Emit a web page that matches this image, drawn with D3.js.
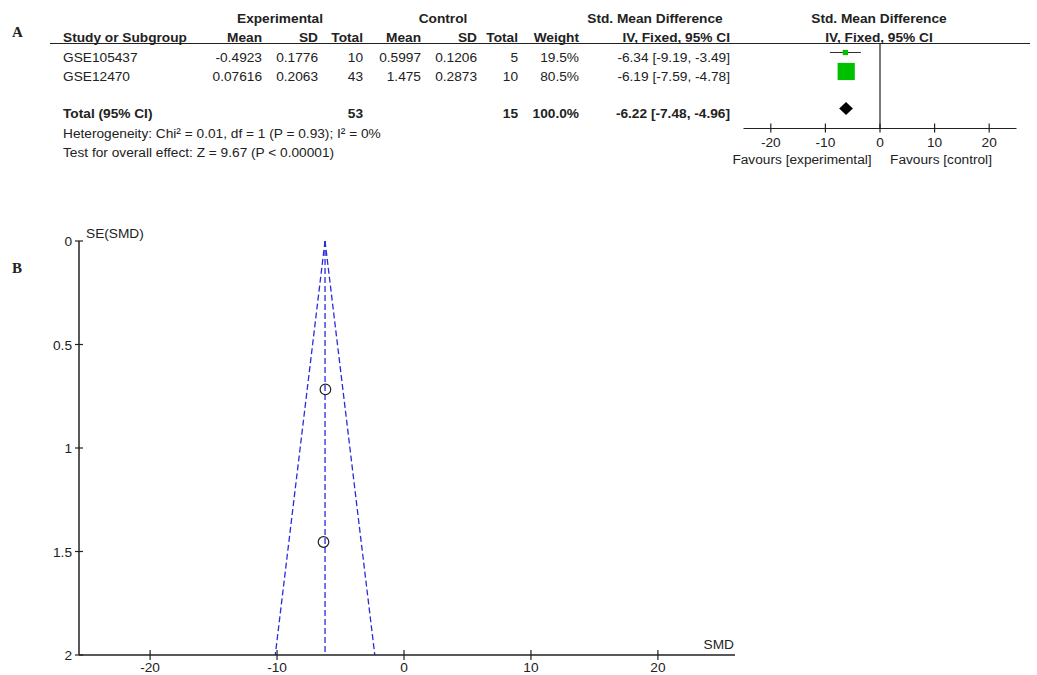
<!DOCTYPE html>
<html>
<head>
<meta charset="utf-8">
<script src="https://cdn.jsdelivr.net/npm/d3@7"></script>
<style>
  body { margin: 0; background: #fff; }
  svg text { font-family: "Liberation Sans", Arial, sans-serif; fill: #222; }
</style>
</head>
<body>
<div id="chart"></div>
<script>
// study rows
const studies = ["GSE105437", "GSE12470"];
const expMean = ["-0.4923", "0.07616"];
const expSD = ["0.1776", "0.2063"];
const expN = [10, 43];
const ctlMean = ["0.5997", "1.475"];
const ctlSD = ["0.1206", "0.2873"];
const ctlN = [5, 10];
const weights = [19.5, 80.5];
const smd = [-6.34, -6.19];
const ciLow = [-9.19, -7.59];
const ciHigh = [-3.49, -4.78];

// pooled result
const totalExpN = 53, totalCtlN = 15;
const pooled = -6.22, pooledLow = -7.48, pooledHigh = -4.96;
const heterogeneity = "Heterogeneity: Chi\u00b2 = 0.01, df = 1 (P = 0.93); I\u00b2 = 0%";
const overallEffect = "Test for overall effect: Z = 9.67 (P < 0.00001)";

const forestTicks = [-20, -10, 0, 10, 20];
const funnelXTicks = [-20, -10, 0, 10, 20];
const funnelYTicks = [0, 0.5, 1, 1.5, 2];

const width = 1037, height = 675;
const svg = d3.select("#chart").append("svg")
    .attr("width", width).attr("height", height);

const fontSize = "13.7px";

// ---------- Panel A: forest plot ----------
svg.append("text").attr("x", 12).attr("y", 37)
    .style("font-family", "'Liberation Serif', serif").style("font-weight", "bold")
    .style("font-size", "15px").text("A");

const A = svg.append("g").style("font-size", fontSize);

// column right edges (table is right aligned except the study name)
const cols = {study: 63, eMean: 262, eSD: 318, eN: 363, cMean: 421, cSD: 477, cN: 518, w: 579, ci: 730};

function txt(g, x, y, s, anchor, bold) {
    return g.append("text").attr("x", x).attr("y", y)
        .attr("text-anchor", anchor || "end")
        .style("font-weight", bold ? "bold" : "normal")
        .text(s);
}
const f2 = v => v.toFixed(2);

// group headers
txt(A, 280, 23, "Experimental", "middle", true);
txt(A, 443, 23, "Control", "middle", true);
txt(A, 655, 23, "Std. Mean Difference", "middle", true);
txt(A, 879, 23, "Std. Mean Difference", "middle", true);

const headY = 41.5;
txt(A, cols.study, headY, "Study or Subgroup", "start", true);
txt(A, cols.eMean, headY, "Mean", "end", true);
txt(A, cols.eSD, headY, "SD", "end", true);
txt(A, cols.eN, headY, "Total", "end", true);
txt(A, cols.cMean, headY, "Mean", "end", true);
txt(A, cols.cSD, headY, "SD", "end", true);
txt(A, cols.cN, headY, "Total", "end", true);
txt(A, cols.w, headY, "Weight", "end", true);
txt(A, cols.ci, headY, "IV, Fixed, 95% CI", "end", true);
txt(A, 879, headY, "IV, Fixed, 95% CI", "middle", true);

A.append("line").attr("x1", 50).attr("x2", 1030).attr("y1", 43.5).attr("y2", 43.5)
    .attr("stroke", "#222").attr("stroke-width", 1.2);

const rowY = d3.scaleOrdinal().domain(studies).range([62, 81]);

studies.forEach((s, i) => {
    const y = rowY(s);
    txt(A, cols.study, y, s, "start");
    txt(A, cols.eMean, y, expMean[i]);
    txt(A, cols.eSD, y, expSD[i]);
    txt(A, cols.eN, y, expN[i]);
    txt(A, cols.cMean, y, ctlMean[i]);
    txt(A, cols.cSD, y, ctlSD[i]);
    txt(A, cols.cN, y, ctlN[i]);
    txt(A, cols.w, y, weights[i].toFixed(1) + "%");
    txt(A, cols.ci, y, `${f2(smd[i])} [${f2(ciLow[i])}, ${f2(ciHigh[i])}]`);
});

const totalY = 118;
txt(A, cols.study, totalY, "Total (95% CI)", "start", true);
txt(A, cols.eN, totalY, totalExpN, "end", true);
txt(A, cols.cN, totalY, totalCtlN, "end", true);
txt(A, cols.w, totalY, "100.0%", "end", true);
txt(A, cols.ci, totalY, `${f2(pooled)} [${f2(pooledLow)}, ${f2(pooledHigh)}]`, "end", true);
txt(A, cols.study, 138, heterogeneity, "start");
txt(A, cols.study, 157, overallEffect, "start");

// forest plot scale
const fx = d3.scaleLinear().domain([-25, 25]).range([743.5, 1016.5]);
const axisY = 128.5;
const sizeScale = d3.scaleLinear().domain([0, 100]).range([1.5, 21]);
const markY = [52.5, 71.5];

A.append("line").attr("x1", fx(0)).attr("x2", fx(0)).attr("y1", 43.5).attr("y2", axisY)
    .attr("stroke", "#222").attr("stroke-width", 1.2);

studies.forEach((s, i) => {
    const y = markY[i];
    A.append("line").attr("x1", fx(ciLow[i])).attr("x2", fx(ciHigh[i]))
        .attr("y1", y).attr("y2", y).attr("stroke", "#333").attr("stroke-width", 1);
    const sz = sizeScale(weights[i]);
    A.append("rect").attr("x", fx(smd[i]) - sz / 2).attr("y", y - sz / 2)
        .attr("width", sz).attr("height", sz).attr("fill", "#00c000");
});

const dy = 108.5;
A.append("path")
    .attr("d", `M${fx(pooledLow)},${dy} L${fx(pooled)},${dy - 6.5} L${fx(pooledHigh)},${dy} L${fx(pooled)},${dy + 6.5} Z`)
    .attr("fill", "#000");

const fAxis = A.append("g").attr("transform", `translate(0,${axisY})`);
fAxis.append("line").attr("x1", fx.range()[0]).attr("x2", fx.range()[1])
    .attr("stroke", "#222").attr("stroke-width", 1.2);
forestTicks.forEach(t => {
    fAxis.append("line").attr("x1", fx(t)).attr("x2", fx(t)).attr("y1", -5).attr("y2", 4)
        .attr("stroke", "#222").attr("stroke-width", 1.2);
    fAxis.append("text").attr("x", fx(t)).attr("y", 18.5).attr("text-anchor", "middle").text(t);
});
txt(A, 802, 164, "Favours [experimental]", "middle");
txt(A, 941, 164, "Favours [control]", "middle");

// ---------- Panel B: funnel plot ----------
svg.append("text").attr("x", 12).attr("y", 273)
    .style("font-family", "'Liberation Serif', serif").style("font-weight", "bold")
    .style("font-size", "15px").text("B");

const B = svg.append("g").style("font-size", fontSize);
const bx = d3.scaleLinear().domain([-25.6, 25.6]).range([79, 729]);
const by = d3.scaleLinear().domain([0, 2]).range([241, 655]);

const se = studies.map((s, i) => (ciHigh[i] - ciLow[i]) / (2 * 1.96));

// funnel lines
const seMax = 2;
const dashStyle = "6,3";
[[pooled, pooled - 1.96 * seMax], [pooled, pooled], [pooled, pooled + 1.96 * seMax]].forEach(([a, b]) => {
    B.append("line").attr("x1", bx(a)).attr("y1", by(0)).attr("x2", bx(b)).attr("y2", by(seMax))
        .attr("stroke", "#2a2ae0").attr("stroke-width", 1.3).attr("stroke-dasharray", dashStyle);
});

B.selectAll("circle.pt").data(studies).join("circle").attr("class", "pt")
    .attr("cx", (d, i) => bx(smd[i])).attr("cy", (d, i) => by(se[i]))
    .attr("r", 5.3).attr("fill", "none").attr("stroke", "#222").attr("stroke-width", 1.2);

// y axis
const yAx = B.append("g").attr("transform", `translate(${bx.range()[0]},0)`);
yAx.append("line").attr("y1", by(0)).attr("y2", by(2)).attr("stroke", "#222").attr("stroke-width", 1.5);
funnelYTicks.forEach(t => {
    yAx.append("line").attr("x1", -4).attr("x2", 4).attr("y1", by(t)).attr("y2", by(t))
        .attr("stroke", "#222").attr("stroke-width", 1.2);
    yAx.append("text").attr("x", -7).attr("y", by(t) + 5).attr("text-anchor", "end").text(t);
});
B.append("text").attr("x", 86).attr("y", 238).text("SE(SMD)");

// x axis
const xAx = B.append("g").attr("transform", `translate(0,${by(2)})`);
xAx.append("line").attr("x1", bx.range()[0]).attr("x2", bx.range()[1] + 6)
    .attr("stroke", "#222").attr("stroke-width", 1.5);
funnelXTicks.forEach(t => {
    xAx.append("line").attr("x1", bx(t)).attr("x2", bx(t)).attr("y1", -5).attr("y2", 5)
        .attr("stroke", "#222").attr("stroke-width", 1.2);
    xAx.append("text").attr("x", bx(t)).attr("y", 17).attr("text-anchor", "middle").text(t);
});
B.append("text").attr("x", 734).attr("y", 649).attr("text-anchor", "end").text("SMD");
</script>
</body>
</html>
